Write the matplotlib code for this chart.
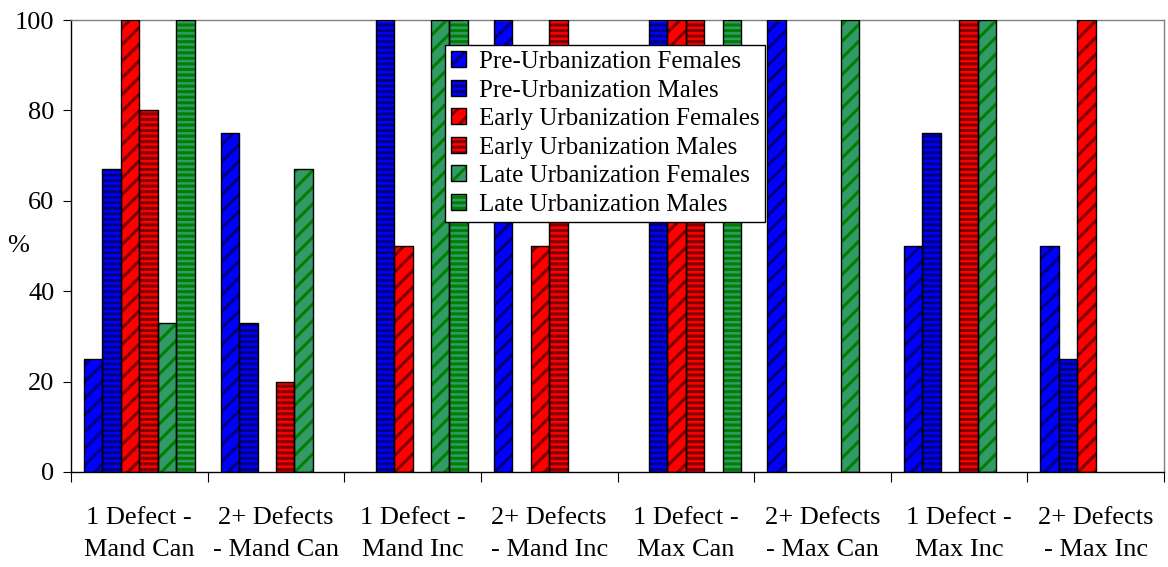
import numpy as np
import matplotlib
matplotlib.use("Agg")
import matplotlib.pyplot as plt
from matplotlib.patches import Patch
from matplotlib.legend_handler import HandlerTuple

categories = ["1 Defect -\nMand Can", "2+ Defects\n- Mand Can", "1 Defect -\nMand Inc",
              "2+ Defects\n- Mand Inc", "1 Defect -\nMax Can", "2+ Defects\n- Max Can",
              "1 Defect -\nMax Inc", "2+ Defects\n- Max Inc"]

series_names = ["Pre-Urbanization Females", "Pre-Urbanization Males",
                "Early Urbanization Females", "Early Urbanization Males",
                "Late Urbanization Females", "Late Urbanization Males"]

pre_females = [25, 75, 0, 100, 0, 100, 50, 50]
pre_males = [67, 33, 100, 0, 100, 0, 75, 25]
early_females = [100, 0, 50, 50, 100, 0, 0, 100]
early_males = [80, 20, 0, 100, 100, 0, 100, 0]
late_females = [33, 67, 100, 0, 0, 100, 100, 0]
late_males = [100, 0, 100, 0, 100, 0, 0, 0]

series_values = [pre_females, pre_males, early_females, early_males, late_females, late_males]
face_colors = ["#0000FF", "#0000FF", "#FF0000", "#FF0000", "#339966", "#339966"]
hatch_colors = ["#000080", "#000080", "#800000", "#800000", "#008000", "#008000"]
hatches = ["//", "---", "//", "---", "//", "---"]

plt.rcParams["font.family"] = ["Liberation Serif", "DejaVu Serif"]
plt.rcParams["hatch.linewidth"] = 2.2
FS = 19
LEG_FS = 18

fig = plt.figure(figsize=(11.68, 5.67), dpi=100)
ax = fig.add_axes([0.0608, 0.1676, 0.9358, 0.7971])

n = len(categories)
x = np.arange(n)
width = 0.135
offsets = (np.arange(6) - 2.5) * width

for k in range(6):
    vals = np.asarray(series_values[k], dtype=float)
    lws = np.where(vals > 0, 1.0, 0.0)
    # hatched fill, then a black outline on top
    ax.bar(x + offsets[k], vals, width, color=face_colors[k],
           edgecolor=hatch_colors[k], hatch=hatches[k], linewidth=0, zorder=2)
    ax.bar(x + offsets[k], vals, width, facecolor="none",
           edgecolor="black", linewidth=lws, zorder=3)

ax.set_xlim(-0.5, n - 0.5)
ax.set_ylim(0, 100)
ax.set_yticks([0, 20, 40, 60, 80, 100])
ax.tick_params(axis="y", labelsize=FS, length=6, direction="out", pad=6)

ax.set_xticks(np.arange(n + 1) - 0.5)
ax.set_xticklabels([])
ax.set_xticks(x, minor=True)
ax.set_xticklabels(categories, minor=True, fontsize=FS, linespacing=1.58)
ax.tick_params(axis="x", which="major", length=7, direction="out")
ax.tick_params(axis="x", which="minor", length=0, pad=25)

for side in ("top", "right"):
    ax.spines[side].set_color("#808080")
    ax.spines[side].set_linewidth(1.0)
for side in ("left", "bottom"):
    ax.spines[side].set_color("black")
    ax.spines[side].set_linewidth(1.0)

ax.set_ylabel("%", rotation=0, fontsize=FS, va="center", ha="center")
ax.yaxis.set_label_coords(-0.048, 0.5)

handles = []
for k in range(6):
    fill = Patch(facecolor=face_colors[k], edgecolor=hatch_colors[k], hatch=hatches[k], linewidth=0)
    outline = Patch(facecolor="none", edgecolor="black", linewidth=1.0)
    handles.append((fill, outline))

leg = ax.legend(handles, series_names, loc="upper left", bbox_to_anchor=(0.342, 0.945),
                borderaxespad=0, fontsize=LEG_FS, handlelength=0.6, handleheight=0.6,
                handletextpad=0.5, labelspacing=0.26, borderpad=0.25, fancybox=False,
                framealpha=1, edgecolor="black",
                handler_map={tuple: HandlerTuple(ndivide=1, pad=0)})
leg.get_frame().set_linewidth(1.0)
leg.set_zorder(5)

fig.savefig("out.png", dpi=100)
